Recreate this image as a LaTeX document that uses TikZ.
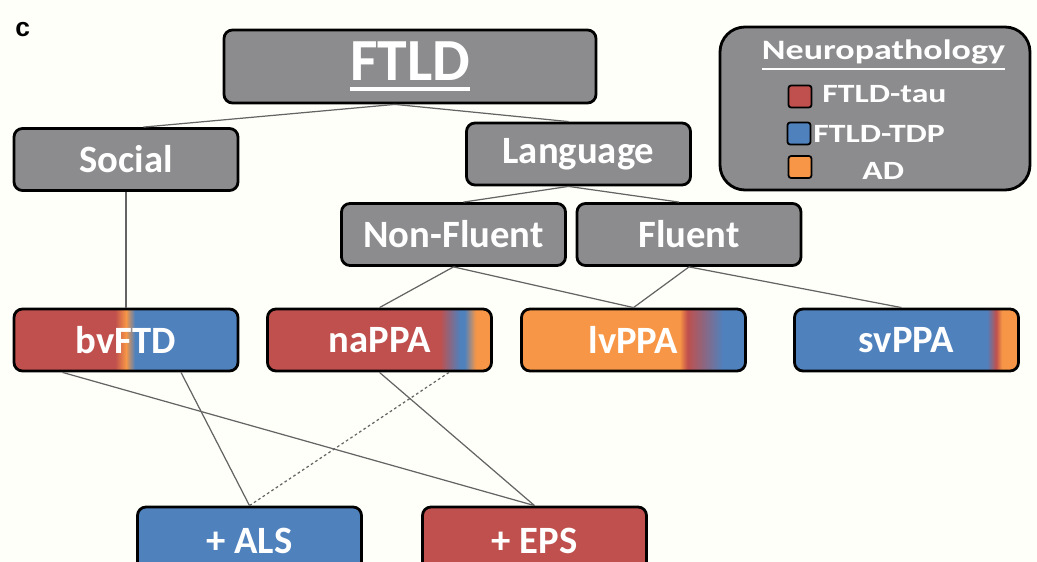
\documentclass[tikz,border=0pt]{standalone}
\usepackage{fontspec}
\setmainfont{Carlito}
\newfontfamily\legfont[FakeStretch=1.28]{Carlito}
\newfontfamily\arialfont{Liberation Sans}
\usetikzlibrary{positioning,calc}
\definecolor{boxgray}{RGB}{140,140,142}
\definecolor{ftred}{RGB}{192,80,77}
\definecolor{ftblue}{RGB}{79,129,189}
\definecolor{ftorange}{RGB}{247,150,70}
\definecolor{bgcream}{RGB}{255,255,250}
\definecolor{linegray}{RGB}{100,100,100}
% mixed pathology bars (box spans 25bp..75bp)
\pgfdeclarehorizontalshading{bvshade}{100bp}{color(0bp)=(ftred); color(47.6bp)=(ftred); color(50bp)=(ftorange); color(52bp)=(ftblue); color(100bp)=(ftblue)}
\pgfdeclarehorizontalshading{nashade}{100bp}{color(0bp)=(ftred); color(63.5bp)=(ftred); color(68bp)=(ftblue); color(69bp)=(ftblue); color(71.5bp)=(ftorange); color(100bp)=(ftorange)}
\pgfdeclarehorizontalshading{lvshade}{100bp}{color(0bp)=(ftorange); color(60.3bp)=(ftorange); color(62bp)=(ftred); color(70bp)=(ftblue); color(100bp)=(ftblue)}
\pgfdeclarehorizontalshading{svshade}{100bp}{color(0bp)=(ftblue); color(68bp)=(ftblue); color(70bp)=(ftred); color(71.3bp)=(ftorange); color(100bp)=(ftorange)}
\newcommand{\thickul}[1]{\setbox0=\hbox{#1}\rlap{\rule[\dimexpr-\dp0-0.17em\relax]{\wd0}{0.07em}}\box0}

\begin{document}
\begin{tikzpicture}[node distance=0.2cm,on grid,
  box/.style={rectangle,draw=black,line width=1.6pt,rounded corners=0.17cm,minimum width=4.48cm,minimum height=1.24cm,text=white,font=\fontsize{22}{26}\selectfont\bfseries},
  graybox/.style={box,fill=boxgray},
  legsq/.style={rectangle,draw=black,line width=1pt,rounded corners=1.5pt,minimum width=0.46cm,minimum height=0.44cm,inner sep=0pt},
  legtxt/.style={inner sep=0pt,text=white,font=\legfont\bfseries\fontsize{15}{18}\selectfont},
  link/.style={draw=linegray,line width=0.7pt}]
\useasboundingbox (0,0) rectangle (20.74,-11.24);
\fill[bgcream] (0,0) rectangle (20.74,-11.24);

\node[anchor=base west,inner sep=0pt,font=\arialfont\bfseries\fontsize{15}{17}\selectfont](q_c) at (0.3,-0.74){c};
\node[graybox,minimum width=7.44cm,minimum height=1.46cm,font=\fontsize{34}{40}\selectfont\bfseries](q_ftld) at (8.2,-1.33){\thickul{FTLD}};
\node[graybox](q_soc)[below=1.86cm of q_ftld,xshift=-5.68cm]{Social};
\node[graybox](q_lang)[below=1.75cm of q_ftld,xshift=3.37cm]{Language};
\node[graybox](q_nf)[below=1.61cm of q_lang,xshift=-2.5cm]{Non-Fluent};
\node[graybox](q_fl)[right=4.71cm of q_nf]{Fluent};
\node[box,shading=bvshade](q_bv)[below=3.61cm of q_soc]{bvFTD};
\node[box,shading=nashade](q_na)[right=5.07cm of q_bv]{naPPA};
\node[box,shading=lvshade](q_lv)[right=5.08cm of q_na]{lvPPA};
\node[box,shading=svshade](q_sv)[right=5.46cm of q_lv]{svPPA};
\node[box,fill=ftblue,minimum height=1.36cm](q_als)[below=4.02cm of q_bv,xshift=2.47cm]{+ ALS};
\node[box,fill=ftred,minimum height=1.36cm](q_eps)[right=5.7cm of q_als]{+ EPS};

% legend
\node[rectangle,draw=black,line width=1.6pt,fill=boxgray,rounded corners=0.5cm,minimum width=6.2cm,minimum height=3.26cm](q_leg)[right=9.3cm of q_ftld,yshift=-0.84cm]{};
\node[legtxt,font=\legfont\bfseries\fontsize{16}{19}\selectfont](q_neu)[above=0.97cm of q_leg,xshift=0.17cm,anchor=base]{\thickul{Neuropathology}};
\node[legsq,fill=ftred](q_ktau)[above left=0.24cm and 1.5cm of q_leg]{};
\node[legsq,fill=ftblue](q_ktdp)[below left=0.5cm and 1.52cm of q_leg]{};
\node[legsq,fill=ftorange](q_kad)[below left=1.17cm and 1.5cm of q_leg]{};
\node[legtxt](q_ttau)[right=0.44cm of q_ktau,yshift=-0.13cm,anchor=base west]{FTLD-tau};
\node[legtxt](q_ttdp)[right=0.28cm of q_ktdp,yshift=-0.19cm,anchor=base west]{FTLD-TDP};
\node[legtxt](q_tad)[right=1.24cm of q_kad,yshift=-0.26cm,anchor=base west]{AD};

\draw[link] ([xshift=-0.3cm]q_ftld.south) -- ([xshift=0.35cm]q_soc.north);
\draw[link] ([xshift=-0.3cm]q_ftld.south) -- ([xshift=-0.2cm]q_lang.north);
\draw[link] (q_soc.south) -- (q_bv.north);
\draw[link] ([xshift=-0.2cm]q_lang.south) -- ([xshift=0.2cm]q_nf.north);
\draw[link] ([xshift=-0.2cm]q_lang.south) -- ([xshift=-0.2cm]q_fl.north);
\draw[link] (q_nf.south) -- (q_na.north);
\draw[link] (q_nf.south) -- (q_lv.north);
\draw[link] (q_fl.south) -- (q_lv.north);
\draw[link] (q_fl.south) -- ([xshift=-0.1cm]q_sv.north);
\draw[link] ([xshift=-1.27cm]q_bv.south) -- (q_eps.north);
\draw[link] ([xshift=1.1cm]q_bv.south) -- (q_als.north);
\draw[link] (q_na.south) -- (q_eps.north);
\draw[link,dash pattern=on 1.5pt off 1.5pt] ([xshift=1.39cm]q_na.south) -- (q_als.north);

\end{tikzpicture}
\end{document}
